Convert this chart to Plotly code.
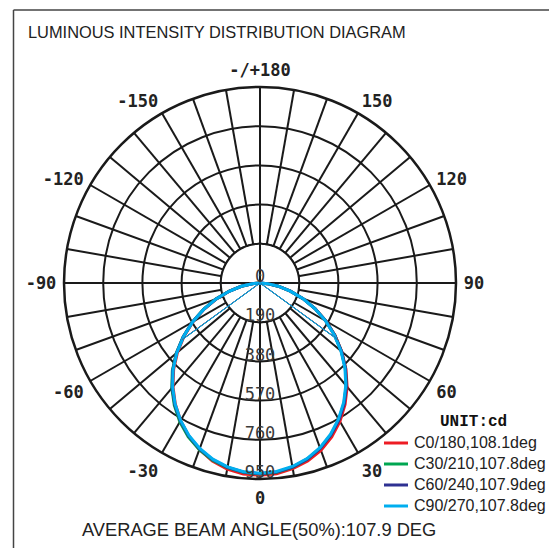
import plotly.graph_objects as go

# ---------------- data ----------------
title_text = "LUMINOUS INTENSITY DISTRIBUTION DIAGRAM"
footer_text = "AVERAGE BEAM ANGLE(50%):107.9 DEG"
unit_text = "UNIT:cd"

angles = [-90, -85, -80, -75, -70, -65, -60, -55, -50, -45, -40, -35, -30, -25, -20, -15, -10, -5,
          0, 5, 10, 15, 20, 25, 30, 35, 40, 45, 50, 55, 60, 65, 70, 75, 80, 85, 90]

series_names = ["C0/180,108.1deg", "C30/210,107.8deg", "C60/240,107.9deg", "C90/270,107.8deg"]
beam_angles = [108.1, 107.8, 107.9, 107.8]

c0_180 = [0, 36, 91, 154, 225, 298, 374, 449, 522, 592, 656, 716, 770, 818, 859, 893, 916, 929,
          932,
          928, 914, 893, 863, 823, 775, 719, 657, 589, 517, 444, 370, 295, 222, 153, 90, 36, 0]
c30_210 = [0, 37, 92, 156, 228, 302, 379, 455, 530, 601, 665, 724, 777, 823, 860, 889, 909, 921,
           926,
           921, 907, 884, 852, 812, 764, 710, 650, 585, 515, 442, 368, 294, 222, 152, 90, 36, 0]
c60_240 = [0, 37, 92, 155, 227, 301, 378, 454, 528, 598, 662, 720, 772, 818, 856, 886, 907, 920,
           924,
           920, 906, 884, 853, 813, 766, 712, 651, 586, 516, 443, 369, 294, 222, 152, 90, 36, 0]
c90_270 = [0, 37, 92, 155, 226, 300, 377, 452, 526, 596, 659, 717, 769, 815, 853, 884, 905, 918,
           922,
           917, 903, 881, 849, 809, 761, 707, 647, 582, 512, 440, 367, 293, 221, 152, 90, 36, 0]

radial_ticks = [190, 380, 570, 760, 950]
radial_tick_text = ["190", "380", "570", "760", "950"]
center_label = "0"

angle_label_vals = [0, 30, 60, 90, 120, 150, 180, 210, 240, 270, 300, 330]
angle_label_text = ["0", "30", "60", "90", "120", "150", "-/+180", "-150", "-120", "-90", "-60", "-30"]
spoke_step = 10

# ---------------- styles / layout (page pixels) ----------------
colors = ["#ed1c24", "#00a651", "#2e3192", "#00aeef"]
grid_col = "#1a1a1a"
OFF = 8                     # default body margin of the html page
FW, FH = 549, 540           # figure size
cx, cy, R = 260, 283, 196   # polar centre and radius on the page


def fx(px):
    return (px - OFF) / FW


def fy(py):
    return 1 - (py - OFF) / FH


all_vals = list(range(0, 360, spoke_step))
lab = dict(zip(angle_label_vals, angle_label_text))
all_text = [lab.get(v, "") for v in all_vals]

fig = go.Figure()

# inner disk hides the spokes inside the first ring
r0 = radial_ticks[0]
fig.add_trace(go.Scatterpolar(
    r=[r0] * 361, theta=list(range(361)), mode="lines", fill="toself",
    fillcolor="white", line=dict(color=grid_col, width=2),
    hoverinfo="skip", showlegend=False))
# cross through centre
fig.add_trace(go.Scatterpolar(
    r=[r0, 0, r0, None, r0, 0, r0], theta=[0, 0, 180, None, 90, 0, 270],
    mode="lines", line=dict(color=grid_col, width=2),
    hoverinfo="skip", showlegend=False))

series = [c0_180, c30_210, c60_240, c90_270]
for name, vals, col in zip(series_names, series, colors):
    fig.add_trace(go.Scatterpolar(
        r=vals, theta=angles, mode="lines", name=name,
        line=dict(color=col, width=3), showlegend=False))

for vals, ba, col in zip(series, beam_angles, colors):
    half = max(vals) / 2
    fig.add_trace(go.Scatterpolar(
        r=[half, 0, half], theta=[-ba / 2, 0, ba / 2], mode="lines",
        line=dict(color=col, width=1), hoverinfo="skip", showlegend=False))

# radial labels along 0 deg, centred ~5 px above each ring (toward the centre)
r_per_px = radial_ticks[-1] / R
lift = 5 * r_per_px
lab_r = [lift] + [t - lift for t in radial_ticks]
lab_theta = [180] + [0] * len(radial_ticks)
fig.add_trace(go.Scatterpolar(
    r=lab_r, theta=lab_theta,
    text=[center_label] + radial_tick_text, mode="text", textposition="middle center",
    textfont=dict(family="DejaVu Sans Mono", size=17, color="#3a3a3a"),
    hoverinfo="skip", showlegend=False, cliponaxis=False))

# manual legend (line key + label)
legend_rows = [442, 463, 484, 505]
shapes = []
annotations = []
for name, col, ry in zip(series_names, colors, legend_rows):
    shapes.append(dict(type="line", xref="paper", yref="paper",
                       x0=fx(384), x1=fx(408), y0=fy(ry + 1), y1=fy(ry + 1),
                       line=dict(color=col, width=3)))
    annotations.append(dict(text=name, x=fx(412), y=fy(ry), xref="paper", yref="paper",
                            xanchor="left", yanchor="middle", showarrow=False,
                            font=dict(family="Liberation Sans, Arial", size=16, color="#222222")))

annotations += [
    dict(text=title_text, x=fx(26), y=fy(32), xref="paper", yref="paper",
         xanchor="left", yanchor="middle", showarrow=False,
         font=dict(family="Liberation Sans, Arial", size=16.4, color="#222222")),
    dict(text=footer_text, x=fx(259), y=fy(529), xref="paper", yref="paper",
         xanchor="center", yanchor="middle", showarrow=False,
         font=dict(family="Liberation Sans, Arial", size=18.3, color="#222222")),
    dict(text=unit_text, x=fx(473), y=fy(422), xref="paper", yref="paper",
         xanchor="center", yanchor="middle", showarrow=False,
         font=dict(family="Liberation Mono, Courier New", size=16, color="#111111", weight="bold")),
]

shapes += [
    dict(type="line", xref="paper", yref="paper", x0=fx(13.5), x1=fx(13.5), y0=0, y1=fy(10),
         line=dict(color="#444444", width=1.5)),
    dict(type="line", xref="paper", yref="paper", x0=fx(13.5), x1=fx(555), y0=fy(10), y1=fy(10),
         line=dict(color="#444444", width=1.5)),
    dict(type="line", xref="paper", yref="paper", x0=fx(555), x1=fx(555), y0=0, y1=fy(10),
         line=dict(color="#c8c8c8", width=1.5)),
]

fig.update_layout(
    width=FW, height=FH, autosize=False,
    margin=dict(l=0, r=0, t=0, b=0),
    paper_bgcolor="white",
    polar=dict(
        domain=dict(x=[fx(cx - R), fx(cx + R)], y=[fy(cy + R), fy(cy - R)]),
        bgcolor="white",
        angularaxis=dict(
            rotation=270, direction="counterclockwise",
            tickmode="array", tickvals=all_vals, ticktext=all_text,
            showgrid=True, gridcolor=grid_col, gridwidth=2,
            showline=True, linecolor=grid_col, linewidth=2.5,
            ticks="outside", ticklen=3, tickcolor="rgba(0,0,0,0)",
            tickfont=dict(family="DejaVu Sans Mono", size=17, color="#222222", weight="bold")),
        radialaxis=dict(
            range=[0, radial_ticks[-1]], tickmode="array", tickvals=radial_ticks,
            showticklabels=False, ticks="", showline=False,
            showgrid=True, gridcolor=grid_col, gridwidth=2)),
    showlegend=False,
    annotations=annotations,
    shapes=shapes,
)

fig.write_html("out.html")
